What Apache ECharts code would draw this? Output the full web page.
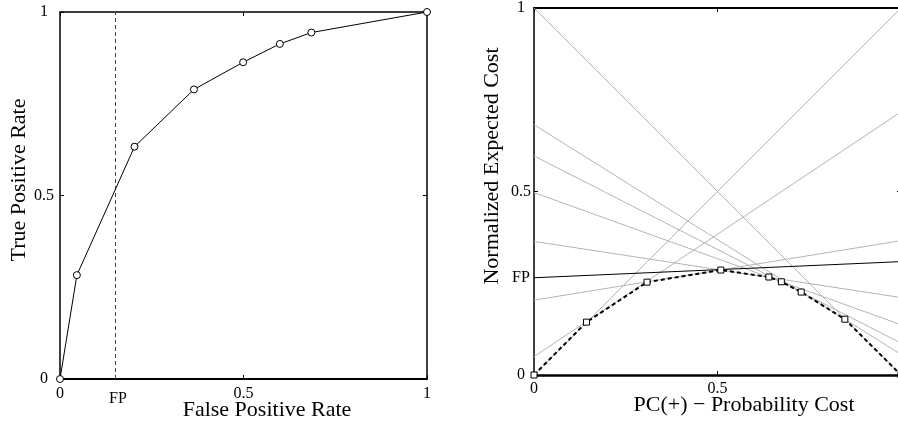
<!DOCTYPE html>
<html><head><meta charset="utf-8">
<script src="https://cdn.jsdelivr.net/npm/echarts@6/dist/echarts.min.js"></script>
<style>html,body{margin:0;padding:0;background:#fff}#c{width:898px;height:425px}</style>
</head><body><div id="c"></div>
<script>
// ROC curve (left panel)
var rocFpr = [0, 0.046, 0.203, 0.365, 0.499, 0.599, 0.685, 1];
var rocTpr = [0, 0.283, 0.633, 0.789, 0.863, 0.913, 0.944, 1];
var fpOperating = 0.151;
// Cost lines (right panel): value at PC(+)=0 and at PC(+)=1
var costStart = [0, 0.05, 0.204, 0.364, 0.497, 0.597, 0.682, 1];
var costEnd   = [1, 0.717, 0.366, 0.211, 0.137, 0.087, 0.056, 0];
// Highlighted FP line
var fpLineStart = 0.265, fpLineEnd = 0.309;
// Lower envelope
var envX = [0, 0.143, 0.308, 0.509, 0.640, 0.674, 0.728, 0.847, 1];
var envY = [0, 0.144, 0.253, 0.286, 0.267, 0.254, 0.226, 0.152, 0];
var tickVals = [0, 0.5, 1];

var FONT = 'Liberation Serif, Times New Roman, serif';
function axis(opts) {
  var base = {
    type: 'value', min: 0, max: 1, interval: 0.5,
    splitLine: {show: false},
    axisLine: {show: true, onZero: false, lineStyle: {color: '#000', width: 1.5}},
    axisTick: {show: true, inside: true, length: 4, lineStyle: {color: '#000'}, customValues: tickVals},
    axisLabel: {show: false}
  };
  for (var k in opts) base[k] = opts[k];
  return base;
}
function lbl(extra) {
  var o = {show: true, color: '#000', fontFamily: FONT, fontSize: 16};
  for (var k in extra) o[k] = extra[k];
  return o;
}

var rocData = rocFpr.map(function (x, i) { return [x, rocTpr[i]]; });
var envData = envX.map(function (x, i) { return [x, envY[i]]; });

var series = [];
series.push({
  type: 'line', xAxisIndex: 0, yAxisIndex: 0, data: rocData,
  symbol: 'circle', symbolSize: 7, showSymbol: true,
  itemStyle: {color: '#fff', borderColor: '#000', borderWidth: 1},
  lineStyle: {color: '#000', width: 1}, z: 5,
  markLine: {
    silent: true, symbol: 'none', animation: false,
    lineStyle: {color: '#444', type: [4, 3], width: 1},
    label: {show: false},
    data: [[{coord: [fpOperating, 0]}, {coord: [fpOperating, 1]}]]
  }
});
costStart.forEach(function (s, i) {
  series.push({
    type: 'line', xAxisIndex: 2, yAxisIndex: 2, data: [[0, s], [1, costEnd[i]]],
    showSymbol: false, symbol: 'none', lineStyle: {color: '#b4b4b4', width: 1}, z: 2
  });
});
series.push({
  type: 'line', xAxisIndex: 2, yAxisIndex: 2, data: [[0, fpLineStart], [1, fpLineEnd]],
  showSymbol: false, symbol: 'none', lineStyle: {color: '#000', width: 1.2}, z: 3
});
series.push({
  type: 'line', xAxisIndex: 2, yAxisIndex: 2, data: envData,
  symbol: 'rect', symbolSize: 6, showSymbol: true,
  itemStyle: {color: '#fff', borderColor: '#000', borderWidth: 1},
  lineStyle: {color: '#000', width: 2, type: [4, 3]}, z: 6
});

var option = {
  animation: false,
  backgroundColor: '#fff',
  grid: [
    {left: 60, top: 12, width: 367, height: 367, outerBoundsMode: 'none'},
    {left: 534, top: 8, width: 367, height: 367, outerBoundsMode: 'none'}
  ],
  xAxis: [
    axis({gridIndex: 0, position: 'bottom',
      axisLine: {show: true, onZero: false, lineStyle: {color: '#000', width: 2}},
      axisLabel: lbl({margin: 7, customValues: [0, fpOperating, 0.5, 1],
        formatter: function (v) { return Math.abs(v - fpOperating) < 1e-9 ? '{fp|FP}' : String(v); },
        rich: {fp: {fontFamily: FONT, fontSize: 16, color: '#000', padding: [5, 0, 0, 5]}}})}),
    axis({gridIndex: 0, position: 'top'}),
    axis({gridIndex: 1, position: 'bottom',
      axisLine: {show: true, onZero: false, lineStyle: {color: '#000', width: 2.5}},
      axisLabel: lbl({margin: 6})}),
    axis({gridIndex: 1, position: 'top', axisLine: {show: true, onZero: false, lineStyle: {color: '#000', width: 2}}})
  ],
  yAxis: [
    axis({gridIndex: 0, position: 'left', axisLabel: lbl({margin: 16, align: 'center'})}),
    axis({gridIndex: 0, position: 'right'}),
    axis({gridIndex: 1, position: 'left',
      axisLabel: lbl({margin: 13, align: 'center', customValues: [0, fpLineStart, 0.5, 1],
        formatter: function (v) { return Math.abs(v - fpLineStart) < 1e-9 ? 'FP' : String(v); }})}),
    axis({gridIndex: 1, position: 'right'})
  ],
  graphic: [
    {type: 'text', x: 267, y: 410, style: {text: 'False Positive Rate', font: '22px ' + FONT, fill: '#000', textAlign: 'center', textVerticalAlign: 'middle'}},
    {type: 'text', x: 19.5, y: 180, rotation: Math.PI / 2, style: {text: 'True Positive Rate', font: '22px ' + FONT, fill: '#000', textAlign: 'center', textVerticalAlign: 'middle'}},
    {type: 'text', x: 744, y: 405, style: {text: 'PC(+) \u2212 Probability Cost', font: '22px ' + FONT, fill: '#000', textAlign: 'center', textVerticalAlign: 'middle'}},
    {type: 'text', x: 492, y: 166, rotation: Math.PI / 2, style: {text: 'Normalized Expected Cost', font: '22px ' + FONT, fill: '#000', textAlign: 'center', textVerticalAlign: 'middle'}}
  ],
  series: series
};
var chart = echarts.init(document.getElementById('c'), null, {renderer: 'canvas'});
chart.setOption(option);
</script></body></html>
